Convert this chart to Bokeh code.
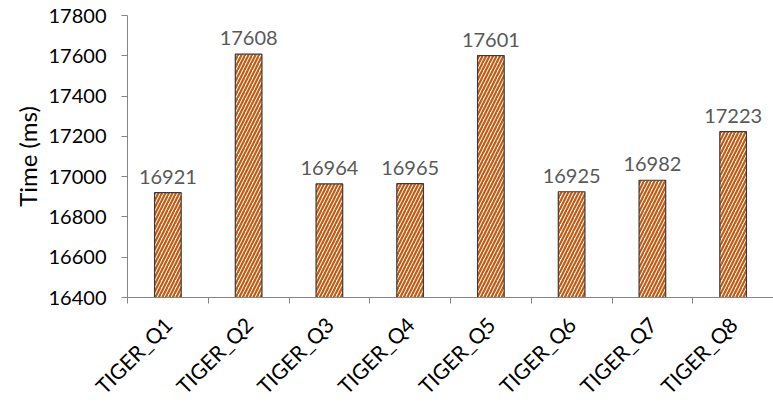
from bokeh.plotting import figure
from bokeh.models import ColumnDataSource, FixedTicker, Range1d, LabelSet
from bokeh.core.properties import value
from bokeh.embed import file_html
from bokeh.resources import INLINE
import math

# Query run times
queries = ["TIGER_Q1", "TIGER_Q2", "TIGER_Q3", "TIGER_Q4",
           "TIGER_Q5", "TIGER_Q6", "TIGER_Q7", "TIGER_Q8"]
times_ms = [16921, 17608, 16964, 16965, 17601, 16925, 16982, 17223]
y_ticks = [16400, 16600, 16800, 17000, 17200, 17400, 17600, 17800]

FONT = "Lato"
positions = list(range(1, len(queries) + 1))

src = ColumnDataSource(dict(
    x=positions,
    top=times_ms,
    label=[str(v) for v in times_ms],
))

p = figure(width=773, height=404, output_backend="svg", toolbar_location=None,
           x_range=Range1d(0.5, len(queries) + 0.5),
           y_range=Range1d(y_ticks[0], y_ticks[-1]),
           frame_width=646, frame_height=282,
           min_border_left=127, min_border_right=0,
           min_border_top=15, min_border_bottom=107)

# striped bars: orange diagonal bands on a white ground
p.vbar(x="x", top="top", bottom=y_ticks[0], width=0.33, source=src,
       fill_color="white", line_color="#3A3A3A", line_width=1.2,
       hatch_pattern="/", hatch_color="#C55A11", hatch_scale=7, hatch_weight=2.2)

labels = LabelSet(x="x", y="top", text="label", source=src,
                  text_align="center", text_baseline="bottom", y_offset=9,
                  text_font=value(FONT), text_font_size="20px",
                  text_color="#595959")
p.add_layout(labels)

# Axes
p.xaxis.ticker = FixedTicker(ticks=positions,
                             minor_ticks=[i + 0.5 for i in range(0, len(queries) + 1)])
p.xaxis.major_label_overrides = {i: q for i, q in zip(positions, queries)}
p.xaxis.major_label_orientation = math.pi / 4
p.xaxis.major_tick_line_color = None
p.xaxis.minor_tick_in = 0
p.xaxis.minor_tick_out = 6
p.xaxis.minor_tick_line_color = "#868686"
p.xaxis.axis_line_color = "#868686"
p.xaxis.major_label_text_font = FONT
p.xaxis.major_label_text_font_size = "21px"
p.xaxis.major_label_text_color = "#000000"
p.xaxis.major_label_standoff = 17

p.yaxis.ticker = FixedTicker(ticks=y_ticks, minor_ticks=[])
p.yaxis.major_tick_in = 0
p.yaxis.major_tick_out = 6
p.yaxis.major_tick_line_color = "#868686"
p.yaxis.axis_line_color = "#868686"
p.yaxis.major_label_text_font = FONT
p.yaxis.major_label_text_font_size = "20px"
p.yaxis.major_label_text_color = "#000000"
p.yaxis.major_label_standoff = 15
p.yaxis.axis_label = "Time (ms)"
p.yaxis.axis_label_text_font = FONT
p.yaxis.axis_label_text_font_size = "24px"
p.yaxis.axis_label_text_font_style = "normal"
p.yaxis.axis_label_text_color = "#000000"
p.yaxis.axis_label_standoff = 4

p.xgrid.grid_line_color = None
p.ygrid.grid_line_color = None
p.outline_line_color = None

open("out.html", "w").write(file_html(p, INLINE))
